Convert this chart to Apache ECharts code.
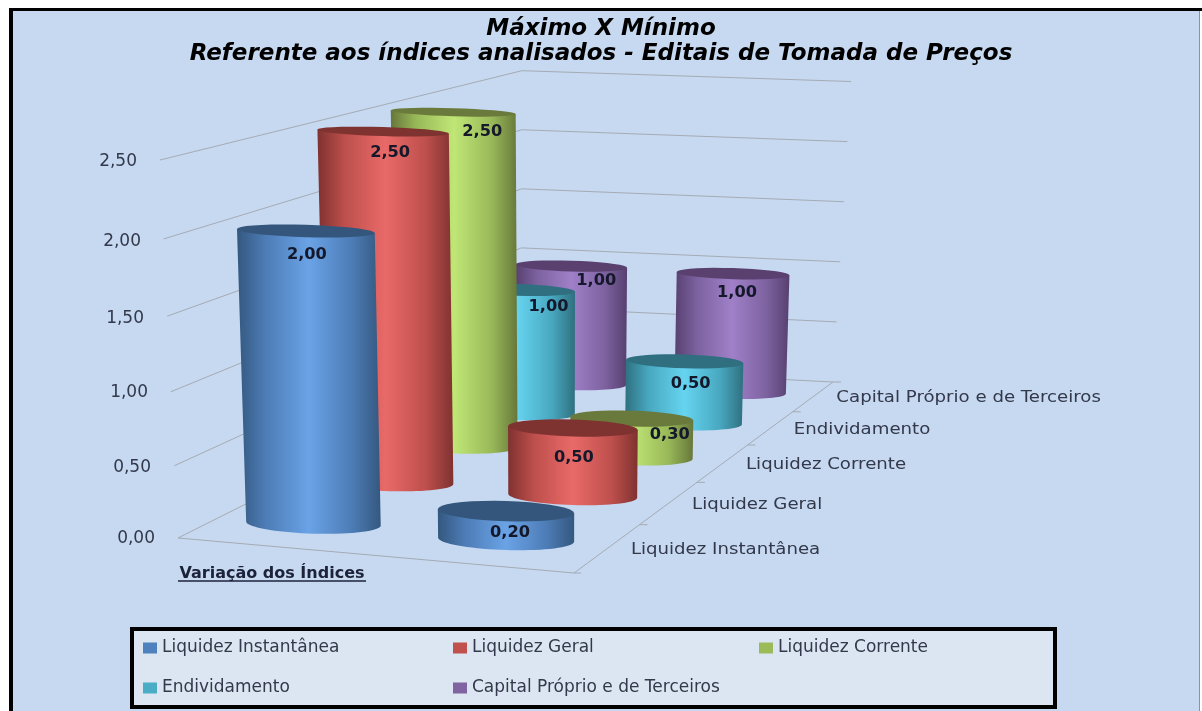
<!DOCTYPE html>
<html><head><meta charset="utf-8">
<style>html,body{margin:0;padding:0;background:#fff}#c{width:1202px;height:711px}</style>
<script src="https://cdn.jsdelivr.net/npm/echarts@6/dist/echarts.min.js"></script>
</head><body><div id="c"></div>
<script>
// ---- data ----
const chartTitle = 'Máximo X Mínimo\nReferente aos índices analisados - Editais de Tomada de Preços';
const columnCategories = ['Variação dos Índices', ''];
const seriesNames = ['Liquidez Instantânea', 'Liquidez Geral', 'Liquidez Corrente', 'Endividamento', 'Capital Próprio e de Terceiros'];
const liquidezInstantanea = [2.00, 0.20];
const liquidezGeral = [2.50, 0.50];
const liquidezCorrente = [2.50, 0.30];
const endividamento = [1.00, 0.50];
const capitalProprio = [1.00, 1.00];
const tickValues = [0, 0.5, 1, 1.5, 2, 2.5];
const allValues = [liquidezInstantanea, liquidezGeral, liquidezCorrente, endividamento, capitalProprio];

// ---- styling ----
const legendColors = ['#4f81bd', '#c0504d', '#9bbb59', '#4bacc6', '#8064a2'];
const edgeColors = ['#34587f', '#7f3230', '#66773a', '#2f7080', '#574070'];
const midColors = ['#4d7cb6', '#bd4f4c', '#98b858', '#48a8c0', '#7d62a0'];
const lightColors = ['#6aa3e6', '#e96a68', '#c0e676', '#66d4f0', '#a080c8'];
const topColors = ['#34567c', '#7f3331', '#6a7a3c', '#2f6f80', '#5a406e'];
const labelNudge = [[[1, 24], [4, 22]], [[7, 22], [1, 30]], [[29, 20], [38, 17]], [[32, 17], [6, 23]], [[25, 15], [4, 19]]];
const tickLabelPad = [0, 4, 7, 11, 14, 18];
const tickLabelDrop = [1, 5, 6, 7, 6, 2];
const FONT = '"DejaVu Sans"';
const TEXT = '#33384a';
const TILT = 0.03;

// ---- 3D view: floor corners in the picture and the resulting projective map ----
const P0 = [178, 538], P1 = [574, 573], P2 = [833, 382], P3 = [521, 366];
const dx1 = P1[0] - P2[0], dy1 = P1[1] - P2[1], dx2 = P3[0] - P2[0], dy2 = P3[1] - P2[1];
const sx = P0[0] - P1[0] + P2[0] - P3[0], sy = P0[1] - P1[1] + P2[1] - P3[1];
const den = dx1 * dy2 - dx2 * dy1;
const G = (sx * dy2 - dx2 * sy) / den, H = (dx1 * sy - sx * dy1) / den;
const A = P1[0] - P0[0] + G * P1[0], B = P3[0] - P0[0] + H * P3[0];
const D = P1[1] - P0[1] + G * P1[1], E = P3[1] - P0[1] + H * P3[1];
const depthCount = seriesNames.length;
function floorPoint(s, t) {
  const w = G * s + H * t + 1;
  return [(A * s + B * t + P0[0]) / w, (D * s + E * t + P0[1]) / w];
}
function heightScale(s, t) { return 1 / (1 - 0.022 * s + 0.28 * t); }
function curve(v) { return v * (0.945 + 0.022 * v); }
function liftWall(s, t, v, unit, curved) {
  const p = floorPoint(s, t);
  return [p[0] + (p[0] - 505) * 0.022 * v, p[1] - (curved ? curve(v) : v) * unit * heightScale(s, t)];
}
function liftCyl(s, t, v, unit) {
  const p = floorPoint(s, t);
  return [p[0] + (p[0] - 550) * 0.016 * v, p[1] - curve(v) * unit * heightScale(s, t)];
}
function ellipseRatio(y) { return 0.065 + (y - 113) * 0.00021; }
function arc(cx, cy, rx, from, to) {
  const ry = rx * ellipseRatio(cy), pts = [], n = 36;
  for (let i = 0; i <= n; i++) {
    const a = from + (to - from) * i / n, x = cx + rx * Math.cos(a);
    pts.push([x, cy + ry * Math.sin(a) + (x - cx) * TILT]);
  }
  return pts;
}
const fmt = v => v.toFixed(2).replace('.', ',');

function cylinderSeries(d) {
  return {
    type: 'custom', name: seriesNames[d], coordinateSystem: 'cartesian2d', z: 20 - d,
    itemStyle: { color: legendColors[d] },
    encode: { x: 0, y: 1 },
    data: allValues[d].map((v, c) => [c, v]),
    renderItem(params, api) {
      const c = api.value(0), v = api.value(1), unit = api.size([0, 1])[1];
      const s = (c + 0.5) / 2, t = (d + 0.5) / depthCount;
      const base = floorPoint(s, t), top = liftCyl(s, t, v, unit);
      const rx = 0.455 * unit * heightScale(s, t), rxTop = rx * (1 + 0.012 * v);
      const side = [[top[0] - rxTop, top[1] - rxTop * TILT]]
        .concat(arc(base[0], base[1], rx, Math.PI, 0))
        .concat([[top[0] + rxTop, top[1] + rxTop * TILT]]);
      const n = labelNudge[d][c];
      return {
        type: 'group', children: [
          { type: 'polygon', shape: { points: side }, style: { fill: { type: 'linear', x: 0, y: 0, x2: 1, y2: 0, colorStops: [
            { offset: 0, color: edgeColors[d] }, { offset: 0.2, color: midColors[d] }, { offset: 0.5, color: lightColors[d] },
            { offset: 0.8, color: midColors[d] }, { offset: 1, color: edgeColors[d] }] } } },
          { type: 'polygon', shape: { points: arc(top[0], top[1], rxTop, 0, Math.PI * 2) }, style: { fill: topColors[d] } },
          { type: 'text', z2: 10, x: top[0] + n[0], y: top[1] + n[1], scaleX: 1.08, style: { text: fmt(v), align: 'center', verticalAlign: 'middle',
            font: 'bold 15px ' + FONT, fill: '#14182a' } }
        ]
      };
    }
  };
}

const wallSeries = {
  type: 'custom', name: 'paredes', coordinateSystem: 'cartesian2d', z: 1, silent: true,
  encode: { x: 0, y: 1 }, data: tickValues.map(v => [0, v]),
  renderItem(params, api) {
    const v = api.value(1), unit = api.size([0, 1])[1];
    return { type: 'polyline', shape: { points: [liftWall(0, 0, v, unit, true), liftWall(0, 1, v, unit, false), liftWall(1, 1, v, unit, false)] },
      style: { stroke: '#a5abb4', lineWidth: 1, fill: 'none' } };
  }
};
const depthSeries = {
  type: 'custom', name: 'profundidade', coordinateSystem: 'cartesian2d', z: 1, silent: true,
  encode: { x: 0, y: 1 }, data: seriesNames.map((n, i) => [0, 0, i]),
  renderItem(params, api) {
    const i = params.dataIndex;
    const ln = (a, b) => ({ type: 'line', shape: { x1: a[0], y1: a[1], x2: b[0], y2: b[1] }, style: { stroke: '#a5abb4', lineWidth: 1 } });
    const tick = floorPoint(1, (i + 1) / depthCount);
    const lab = floorPoint(1, (i + 0.5) / depthCount);
    const kids = [ln(tick, [tick[0] + 8, tick[1]]),
      { type: 'text', x: lab[0] + 23, y: lab[1] + 2, scaleX: 1.21, style: { text: seriesNames[i], align: 'left', verticalAlign: 'middle', font: '15px ' + FONT, fill: TEXT } }];
    if (i === 0) {
      const a = floorPoint(0, 0), b = floorPoint(1, 0), e = floorPoint(1, 1);
      kids.push(ln(a, b), ln(b, e), ln(b, [b[0] + 7, b[1]]));
    }
    return { type: 'group', children: kids };
  }
};

const tickRich = {};
tickLabelPad.forEach((p, i) => { tickRich['t' + i] = { padding: [tickLabelDrop[i] * 2, p, 0, 0], fontSize: 17, fontFamily: FONT, color: TEXT }; });

const chart = echarts.init(document.getElementById('c'), null, { renderer: 'canvas' });
chart.setOption({
  animation: false,
  textStyle: { fontFamily: FONT },
  title: { text: chartTitle, left: 596, top: 12, textAlign: 'center',
    textStyle: { fontFamily: FONT, fontSize: 23, fontWeight: 'bold', fontStyle: 'italic', color: '#000', lineHeight: 25 } },
  legend: {
    left: 132, top: 629, orient: 'horizontal', width: 918, padding: [0, 4, 0, 11], itemGap: 2, itemWidth: 14, itemHeight: 11,
    backgroundColor: '#dce6f2', borderColor: '#000', borderWidth: 4, borderRadius: 0, icon: 'rect',
    textStyle: { fontFamily: FONT, fontSize: 17, color: TEXT, lineHeight: 38, height: 34, width: 289, padding: [4, 0, 0, 0] },
    data: seriesNames.map((n, i) => ({ name: n, textStyle: i === 2 ? { width: 273 } : (i === 1 ? { width: 285 } : {}) }))
  },
  grid: { left: 178, top: 160, width: 376, height: 378, containLabel: false },
  xAxis: { type: 'category', data: columnCategories, axisLine: { show: false }, axisTick: { show: false }, splitLine: { show: false },
    axisLabel: { interval: 0, margin: 28, fontFamily: FONT, fontWeight: 'bold', fontSize: 16, color: '#1c2238' } },
  yAxis: { type: 'value', min: 0, max: 2.5, interval: 0.5, axisLine: { show: false }, axisTick: { show: false }, splitLine: { show: false },
    axisLabel: { margin: 23, formatter: v => { const i = tickValues.indexOf(v); return '{t' + i + '|' + fmt(v) + '}'; }, rich: tickRich } },
  graphic: [
    { type: 'rect', z: -10, shape: { x: 11, y: 10, width: 1188, height: 701 }, style: { fill: '#c6d9f1', stroke: null } },
    { type: 'rect', z: -9, shape: { x: 9, y: 8, width: 1193, height: 3 }, style: { fill: '#000' } },
    { type: 'rect', z: -9, shape: { x: 9, y: 8, width: 4, height: 703 }, style: { fill: '#000' } },
    { type: 'rect', z: -9, shape: { x: 1199, y: 11, width: 1, height: 700 }, style: { fill: '#8a94a3' } },
    { type: 'line', z: 5, shape: { x1: 178, y1: 581, x2: 366, y2: 581 }, style: { stroke: '#1c2238', lineWidth: 1.5 } }
  ],
  series: [wallSeries, depthSeries].concat(seriesNames.map((n, d) => cylinderSeries(d)))
});
</script></body></html>
